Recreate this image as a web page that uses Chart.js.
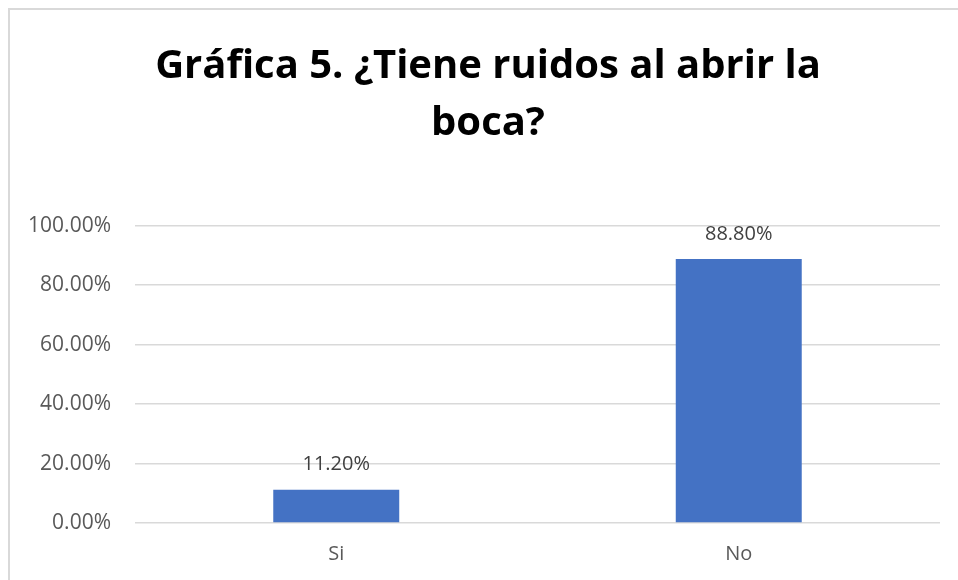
<!DOCTYPE html>
<html>
<head>
<meta charset="utf-8">
<title>Gráfica 5</title>
<script src="https://cdn.jsdelivr.net/npm/chart.js@4.4.1/dist/chart.umd.min.js"></script>
<style>
  html, body { margin: 0; padding: 0; background: #fff; overflow: hidden; }
  #frame {
    position: absolute; left: 8px; top: 8px;
    width: 1000px; height: 1000px;
    border: 2px solid #d9d9d9;
  }
  #wrap { position: absolute; left: 8px; top: 8px; width: 962px; height: 572px; }
</style>
</head>
<body>
<div id="frame"></div>
<div id="wrap"><canvas id="grafica5"></canvas></div>
<script>
const categorias = ["Si", "No"];
const porcentajes = [11.2, 88.8];
const marcasEje = [0, 20, 40, 60, 80, 100];

const fuente = "'Open Sans', 'Liberation Sans', sans-serif";

// etiquetas de valor encima de cada barra
const etiquetasValor = {
  id: 'etiquetasValor',
  afterDatasetsDraw(chart) {
    const ctx = chart.ctx;
    const meta = chart.getDatasetMeta(0);
    ctx.save();
    ctx.font = "20px " + fuente;
    ctx.fillStyle = '#404040';
    ctx.textAlign = 'center';
    ctx.textBaseline = 'middle';
    meta.data.forEach(function (bar, i) {
      ctx.fillText(porcentajes[i].toFixed(2) + '%', bar.x, bar.y - 25);
    });
    ctx.restore();
  }
};

// el título se centra en todo el marco, no solo en el área del gráfico
const tituloCentrado = {
  id: 'tituloCentrado',
  afterLayout(chart) {
    if (chart.titleBlock) {
      chart.titleBlock.left = 0;
      chart.titleBlock.right = 960;
    }
  }
};

var ctx = document.getElementById("grafica5").getContext('2d');
var myChart = new Chart(ctx, {
  type: 'bar',
  data: {
    labels: categorias,
    datasets: [{
      data: porcentajes,
      backgroundColor: '#4472c4',
      borderWidth: 0,
      categoryPercentage: 1,
      barPercentage: 0.313
    }]
  },
  options: {
    responsive: true,
    maintainAspectRatio: false,
    animation: false,
    layout: { padding: { left: 0, right: 30, top: 0, bottom: 0 } },
    plugins: {
      legend: { display: false },
      tooltip: { enabled: false },
      title: {
        display: true,
        text: ["Gráfica 5. ¿Tiene ruidos al abrir la", "boca?"],
        color: '#000',
        font: { family: fuente, size: 40, weight: 'bold', lineHeight: 1.42 },
        padding: { top: 30, bottom: 74 }
      }
    },
    scales: {
      x: {
        grid: { display: false },
        border: { display: false },
        ticks: { color: '#595959', font: { family: fuente, size: 20 }, padding: 11 },
        afterFit(scale) { scale.height = 57; }
      },
      y: {
        min: 0,
        max: 100,
        afterBuildTicks(scale) {
          scale.ticks = marcasEje.map(v => ({ value: v }));
        },
        grid: { color: '#d9d9d9', lineWidth: 1.5, drawTicks: false },
        border: { display: false },
        ticks: {
          color: '#595959',
          font: { family: fuente, size: 21 },
          padding: 24,
          callback: v => v.toFixed(2) + '%'
        },
        afterFit(scale) { scale.width = 127; }
      }
    }
  },
  plugins: [etiquetasValor, tituloCentrado]
});
</script>
</body>
</html>
